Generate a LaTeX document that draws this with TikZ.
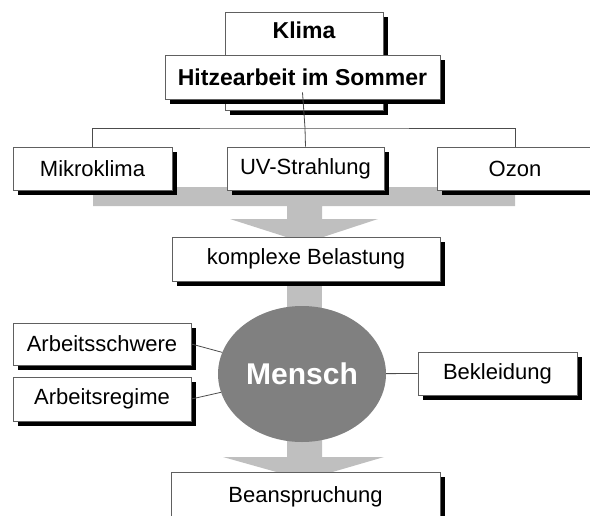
\documentclass[tikz,border=0pt]{standalone}
\usepackage{fontspec}
\setmainfont{Liberation Sans}
\usetikzlibrary{shadows,shapes.geometric}

\begin{document}
\begin{tikzpicture}[x=1pt,y=-1pt]
        \tikzstyle{every node}=[font=\fontsize{22}{26}\selectfont, inner sep=0pt]
        \tikzstyle{box}=[draw=gray!75!black, line width=0.8pt, fill=white, rectangle, minimum height=43pt,
            drop shadow={shadow xshift=5pt, shadow yshift=-5pt, fill=black, opacity=1}]
        \tikzstyle{tree}=[draw=gray!60!black, line width=0.8pt]
        \tikzstyle{flow}=[fill=gray!50, draw=none]
        \useasboundingbox (0,0) rectangle (590,515);
        \clip (0,0) rectangle (590,515);
        % gray flow arrows
        \fill[flow] (93,187) -- (515,187) -- (515,206) -- (322,206) -- (322,219) -- (378,219) -- (305,243)
            -- (230,219) -- (287,219) -- (287,206) -- (93,206) -- cycle;
        \fill[flow] (287,275) rectangle (322,320);
        \fill[flow] (287,430) -- (322,430) -- (322,457) -- (384,457) -- (305,480) -- (223,457) -- (287,457) -- cycle;
        % header
        \node[box, anchor=north, minimum width=158pt, text height=26pt, text depth=72pt, font=\fontsize{23}{26}\selectfont\bfseries] (klima) at (304,12) {Klima};
        \node[box, minimum width=275pt, minimum height=44pt, font=\fontsize{23}{26}\selectfont\bfseries] (hitze) at (302.5,77) {Hitzearbeit im Sommer};
        % factors
        \node[box, minimum width=159pt] (mikro) at (92.5,168.5) {Mikroklima};
        \node[box, minimum width=157pt] (uv) at (305.5,168.5) {UV-Strahlung};
        \node[box, minimum width=156pt] (ozon) at (515,168.5) {Ozon};
        \coordinate (bus) at (305,128);
        \draw[tree] (hitze.south) ++(0,-7) -- (bus) -- (uv.north);
        \draw[tree] (mikro.north) |- (bus) -| (ozon.north);
        \node[box, minimum width=268pt, minimum height=44pt] (komplex) at (306,259) {komplexe Belastung};
        % human
        \node[ellipse, fill=black!50, minimum width=168pt, minimum height=136pt,
            text=white, font=\fontsize{30}{34}\selectfont\bfseries] (mensch) at (302,374) {Mensch};
        \node[box, minimum width=178pt, minimum height=42pt] (schwere) at (102,344) {Arbeitsschwere};
        \node[box, minimum width=178pt, minimum height=44pt] (regime) at (102,399) {Arbeitsregime};
        \node[box, minimum width=159pt] (bekleid) at (497.5,373.5) {Bekleidung};
        \draw[tree] (schwere.east) -- (mensch);
        \draw[tree] (regime.east) -- (mensch);
        \draw[tree] (mensch) -- (bekleid.west);
        \node[box, anchor=north, minimum width=269pt, text height=30pt, text depth=22pt] (beansp) at (305.5,472) {Beanspruchung};
    \end{tikzpicture}
\end{document}
